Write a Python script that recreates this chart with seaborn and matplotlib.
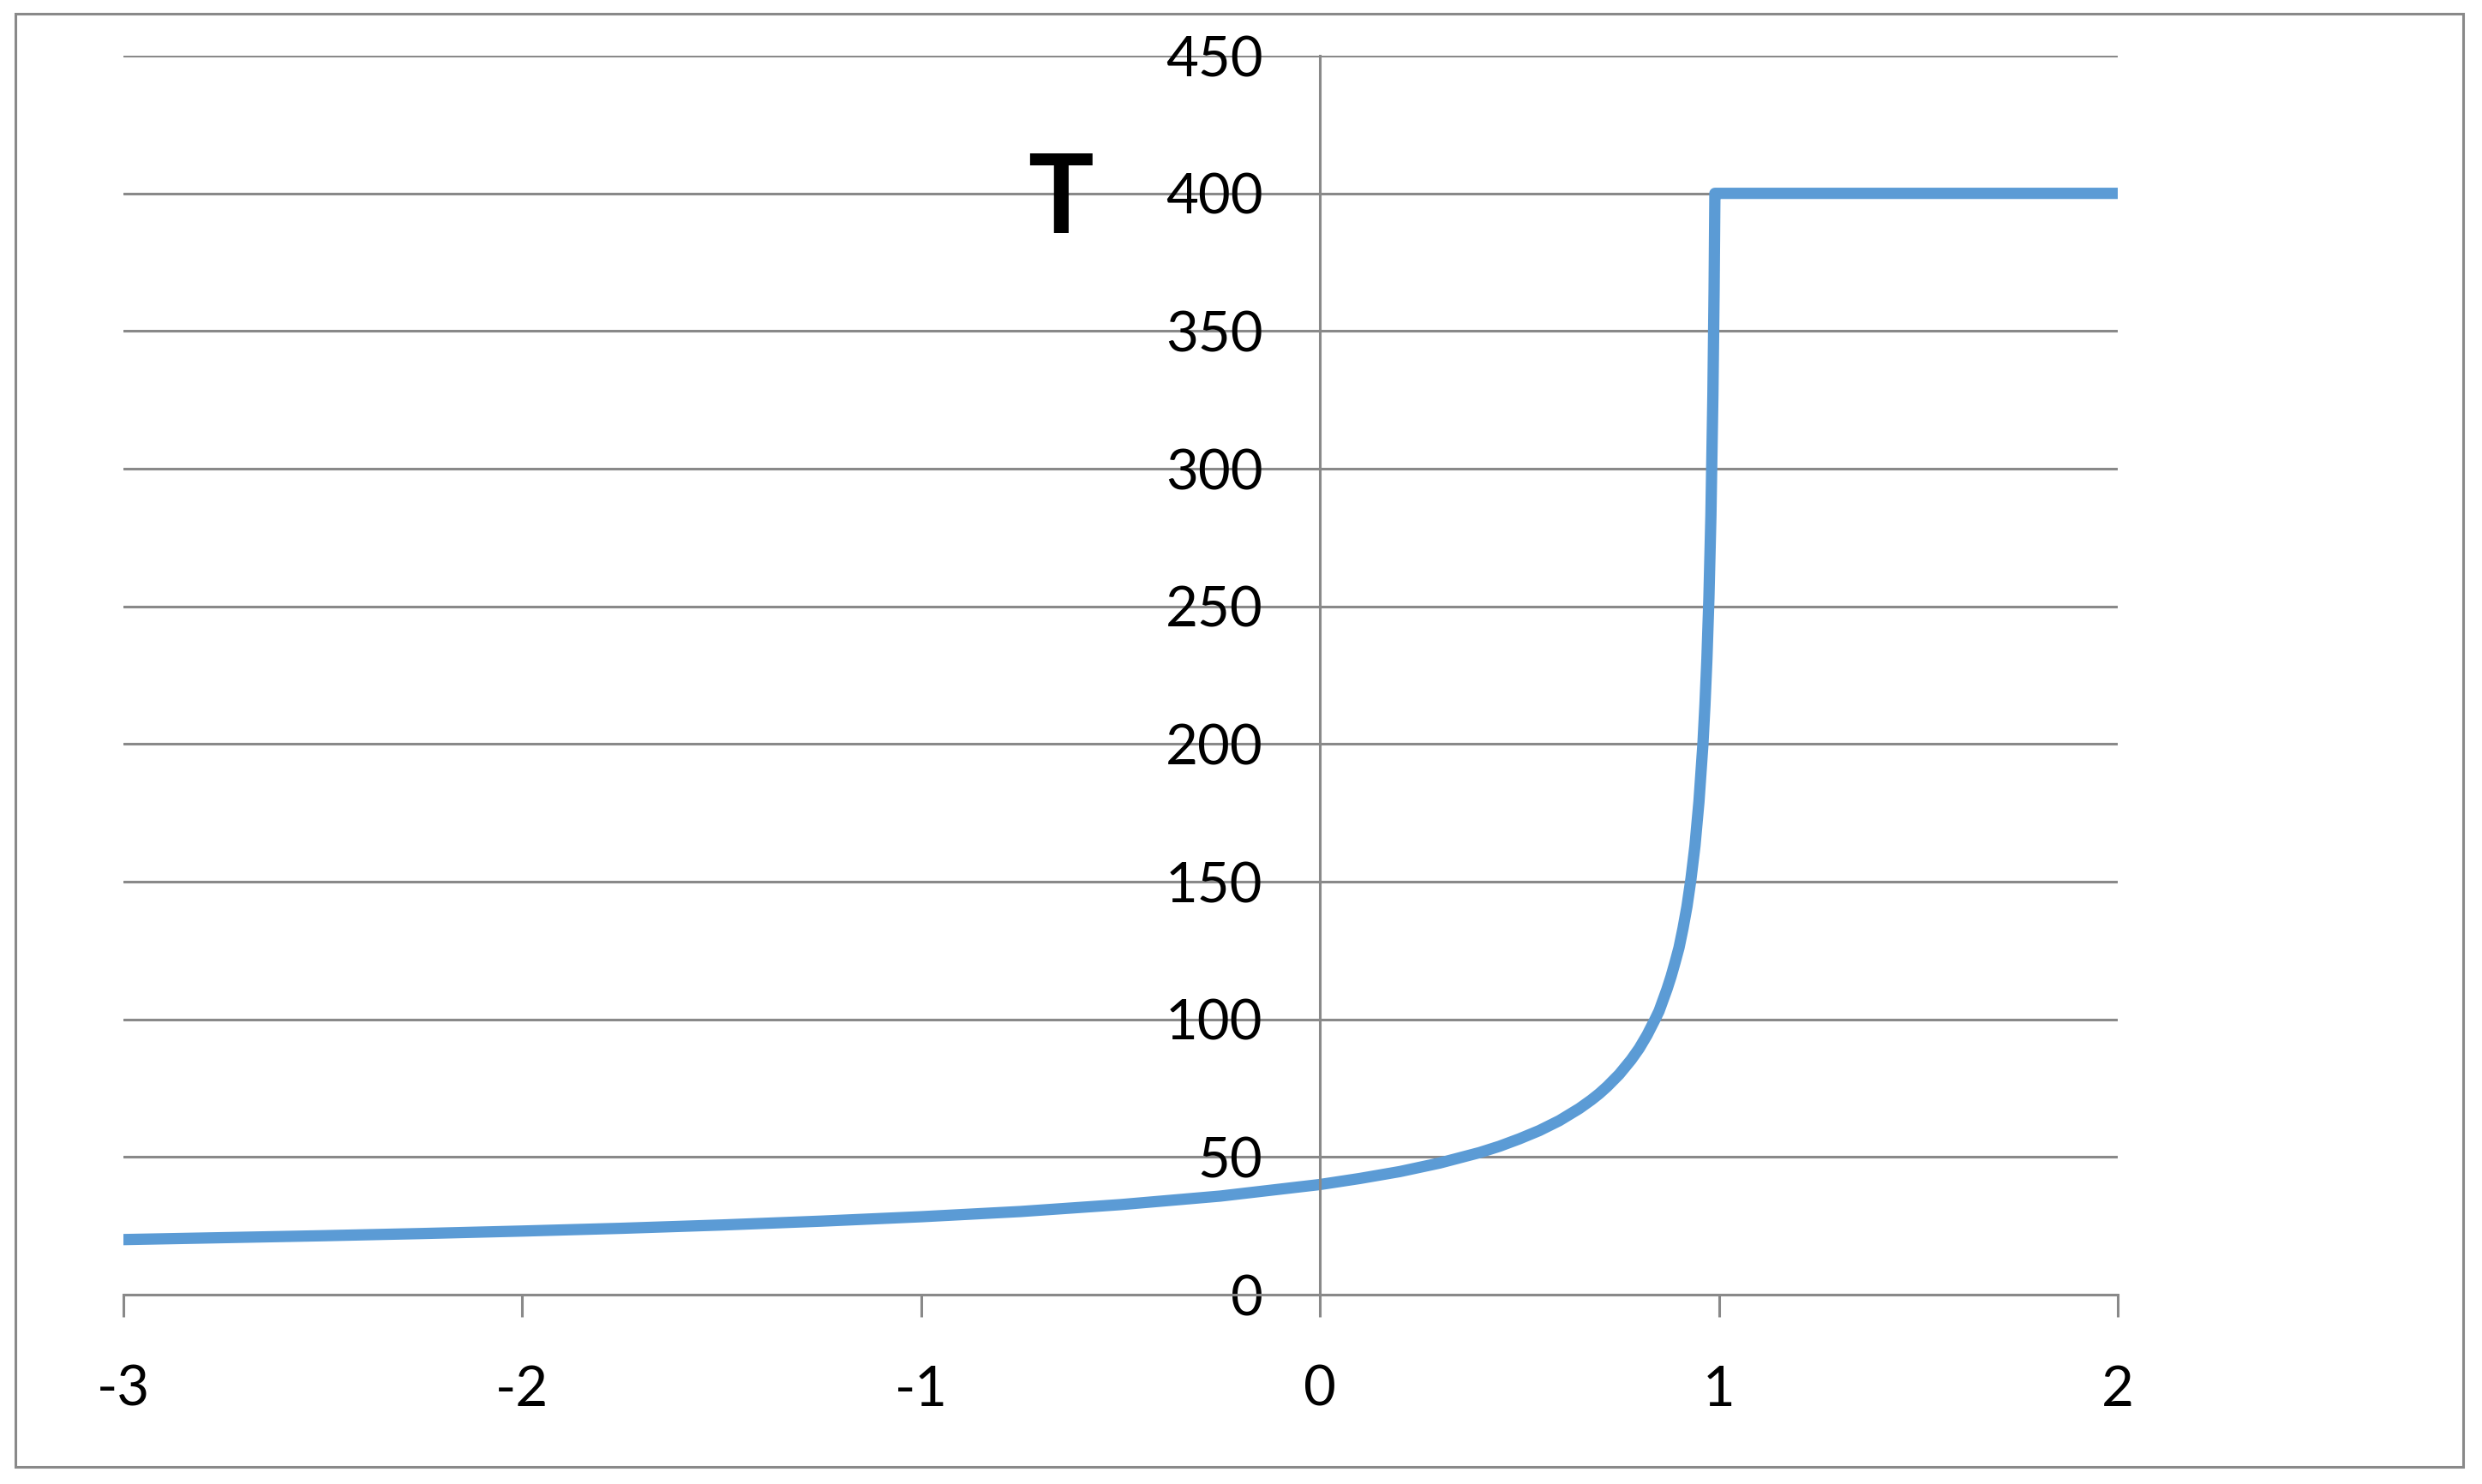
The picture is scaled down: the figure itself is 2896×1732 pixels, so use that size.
import matplotlib
matplotlib.use("Agg")
import matplotlib.pyplot as plt
from matplotlib.patches import Rectangle
import seaborn as sns

# values
x_vals = [-3, -2.75, -2.5, -2.25, -2, -1.75, -1.5, -1.25, -1, -0.75, -0.5, -0.25, 0,
          0.1, 0.2, 0.3, 0.4, 0.45, 0.5, 0.55, 0.6, 0.65, 0.68, 0.7, 0.72, 0.75, 0.78,
          0.8, 0.82, 0.84, 0.85, 0.87, 0.88, 0.89, 0.9, 0.91, 0.92, 0.93, 0.94, 0.95,
          0.96, 0.965, 0.97, 0.975, 0.98, 0.985, 0.988, 0.99, 1.0, 1.5, 2.0]
t_vals = [20, 20.7, 21.4, 22.2, 23.1, 24.1, 25.3, 26.7, 28.3, 30.2, 32.7, 35.8, 40,
          42.2, 44.7, 47.8, 51.6, 53.9, 56.6, 59.6, 63.2, 67.6, 70.7, 73, 75.6, 80, 85.3,
          89.4, 94.3, 100, 103, 111, 115.5, 120.6, 126, 133, 141, 151, 163, 179,
          200, 214, 231, 253, 283, 327, 365, 400, 400, 400, 400]
x_ticks = [-3, -2, -1, 0, 1, 2]
y_ticks = [0, 50, 100, 150, 200, 250, 300, 350, 400, 450]

sns.set_style("white")
plt.rcParams['font.family'] = ['Lato', 'DejaVu Sans']
plt.rcParams['text.color'] = 'black'
plt.rcParams['xtick.color'] = 'black'
plt.rcParams['ytick.color'] = 'black'

grey = "#898989"
blue = "#5B9BD5"

fig = plt.figure(figsize=(28.96, 17.32), dpi=100)
ax = fig.add_axes([144 / 2896, 1 - 1511 / 1732, (2471 - 144) / 2896, (1511 - 65) / 1732])

sns.lineplot(x=x_vals, y=t_vals, ax=ax, color=blue, linewidth=9.5,
             estimator=None, solid_capstyle="round", solid_joinstyle="round")

ax.set_xlim(-3, 2)
ax.set_ylim(0, 450)
ax.set_xticks(x_ticks)
ax.set_yticks(y_ticks)
ax.set_xticklabels([str(v) for v in x_ticks])
ax.set_yticklabels([str(v) for v in y_ticks])

ax.yaxis.grid(True, color=grey, linewidth=2.2)
ax.xaxis.grid(False)
ax.set_axisbelow(True)

for s in ["top", "right"]:
    ax.spines[s].set_visible(False)
ax.spines["left"].set_position(("data", 0))
ax.spines["left"].set_color(grey)
ax.spines["left"].set_linewidth(2.2)
ax.spines["bottom"].set_color(grey)
ax.spines["bottom"].set_linewidth(2.2)

ax.tick_params(axis="x", direction="out", length=19, width=2.2, color=grey,
               labelsize=47, labelcolor="black", pad=40, bottom=True)
ax.tick_params(axis="y", length=0, labelsize=47, labelcolor="black", pad=48, left=False)

ax.text(-0.65, 397, "T", fontsize=92, fontweight="bold", color="black",
        ha="center", va="center")

fig.patches.append(Rectangle((18 / 2896, 1 - 1712 / 1732), (2874 - 18) / 2896, (1712 - 16) / 1732,
                             transform=fig.transFigure, fill=False, edgecolor=grey, linewidth=2.2))

fig.savefig("out.png", dpi=100, facecolor="white")
